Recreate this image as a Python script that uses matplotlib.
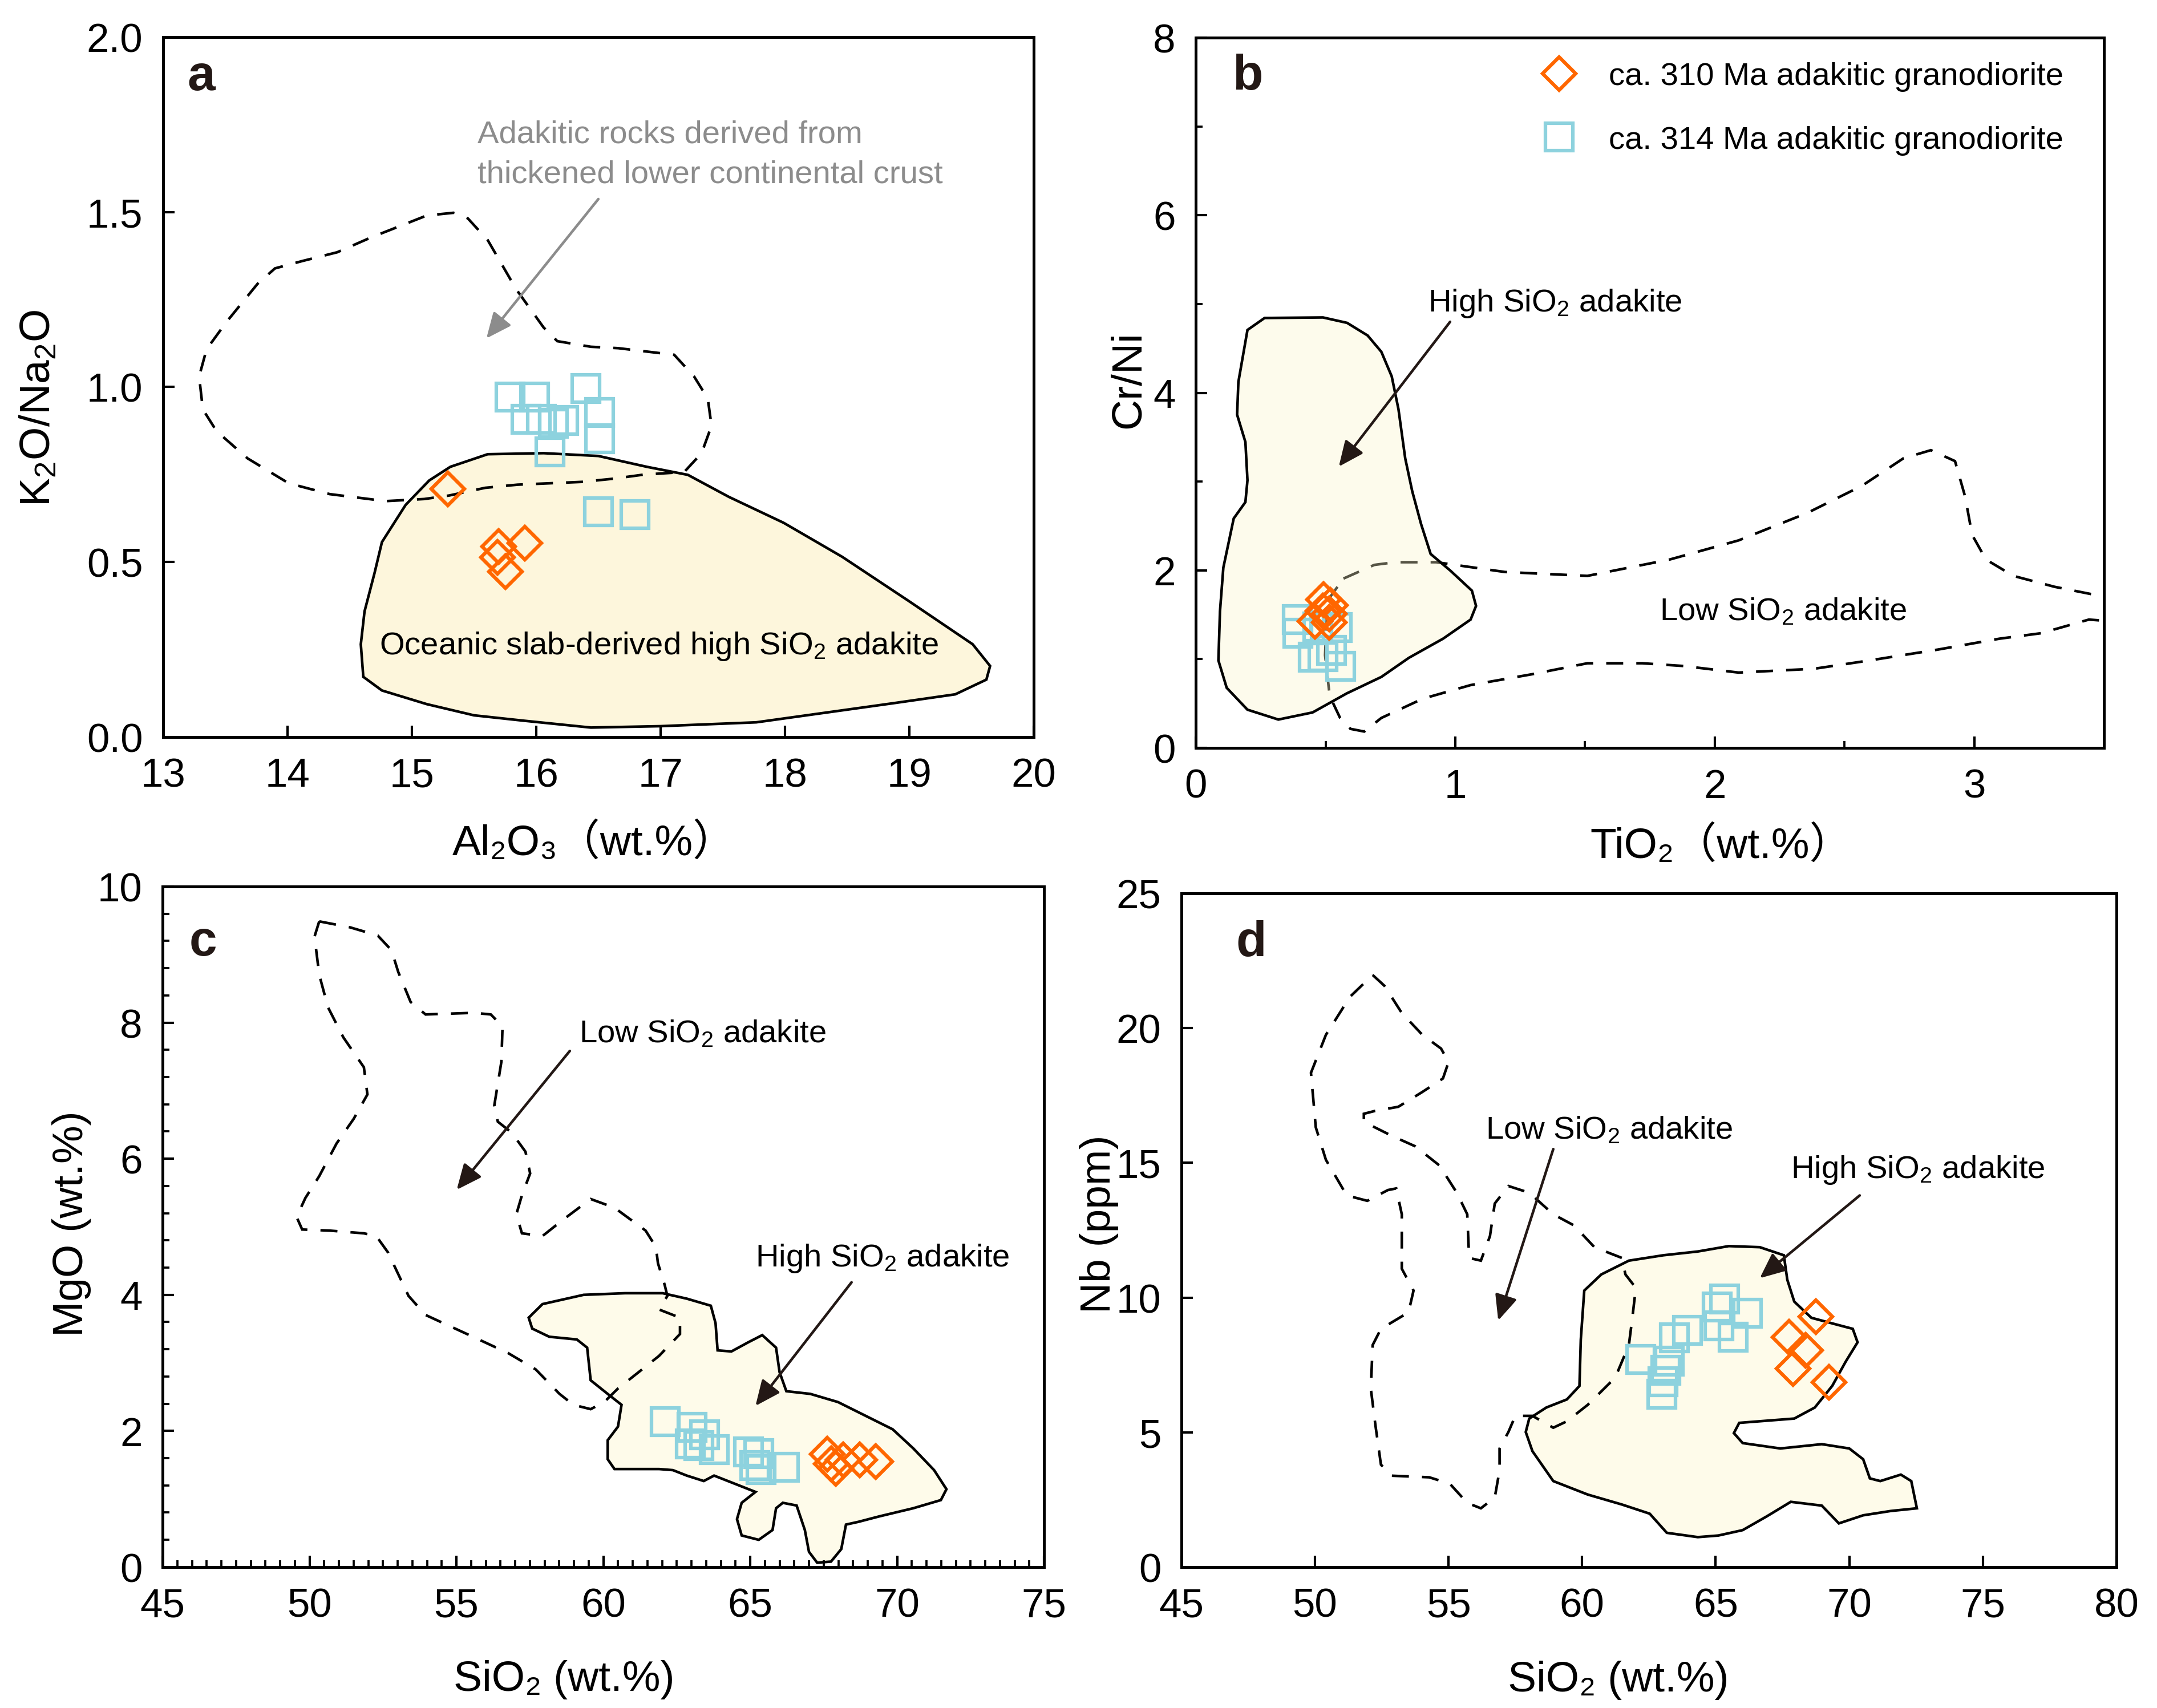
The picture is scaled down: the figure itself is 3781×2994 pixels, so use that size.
import matplotlib
matplotlib.use("Agg")
import matplotlib.pyplot as plt
from matplotlib.ticker import MultipleLocator


OUTPUT_PATH = "out.png"

# ---------------- panel a : K2O/Na2O vs Al2O3 ----------------
A_SLAB_X = [15.31, 15.61, 16.06, 16.50, 16.89, 17.22, 17.55, 17.99, 18.46, 18.99,
            19.51, 19.65, 19.62, 19.37, 18.88, 17.77, 17.00, 16.44, 15.89, 15.50,
            15.12, 14.76, 14.61, 14.59, 14.62, 14.70, 14.76, 14.95, 15.14]
A_SLAB_Y = [0.772, 0.808, 0.811, 0.803, 0.772, 0.749, 0.686, 0.612, 0.515, 0.390,
            0.265, 0.203, 0.164, 0.122, 0.097, 0.042, 0.031, 0.027, 0.047, 0.062,
            0.094, 0.133, 0.172, 0.265, 0.359, 0.468, 0.557, 0.663, 0.733]
A_CRUST_X = [15.34, 15.12, 14.67, 14.40, 14.12, 13.90, 13.76, 13.51, 13.35, 13.29,
             13.32, 13.43, 13.68, 14.01, 14.34, 14.79, 15.10, 15.30, 15.59, 15.85,
             16.11, 16.37, 16.62, 16.87, 17.19, 17.33, 17.41, 17.38, 17.27, 17.11,
             16.66, 16.44, 16.17, 16.06, 15.84, 15.61, 15.45]
A_CRUST_Y = [1.498, 1.490, 1.427, 1.385, 1.360, 1.339, 1.295, 1.186, 1.108, 1.030,
             0.936, 0.874, 0.796, 0.725, 0.694, 0.674, 0.680, 0.690, 0.712, 0.721,
             0.725, 0.729, 0.738, 0.750, 0.757, 0.811, 0.889, 0.967, 1.030, 1.092,
             1.111, 1.115, 1.131, 1.170, 1.279, 1.420, 1.482]
A_314_X = [15.79, 15.985, 16.40, 15.92, 16.04, 16.14, 16.22, 16.51, 16.51, 16.11, 16.50, 16.795]
A_314_Y = [0.971, 0.972, 0.996, 0.908, 0.907, 0.896, 0.905, 0.927, 0.852, 0.815, 0.643, 0.635]
A_310_X = [15.29, 15.70, 15.91, 15.69, 15.755]
A_310_Y = [0.709, 0.545, 0.554, 0.513, 0.472]

# ---------------- panel b : Cr/Ni vs TiO2 ----------------
B_HIGH_X = [0.265, 0.490, 0.583, 0.662, 0.715, 0.755, 0.781, 0.807, 0.834, 0.868,
            0.905, 0.980, 1.064, 1.080, 1.059, 0.953, 0.821, 0.715, 0.582, 0.450,
            0.318, 0.199, 0.119, 0.087, 0.093, 0.106, 0.146, 0.191, 0.199, 0.191,
            0.159, 0.164, 0.199]
B_HIGH_Y = [4.843, 4.849, 4.788, 4.646, 4.462, 4.185, 3.815, 3.262, 2.892, 2.523,
            2.185, 2.000, 1.772, 1.600, 1.446, 1.231, 1.015, 0.800, 0.615, 0.400,
            0.320, 0.431, 0.677, 0.985, 1.538, 2.031, 2.585, 2.769, 3.015, 3.446,
            3.754, 4.123, 4.708]
B_LOW_X = [0.569, 0.688, 0.768, 0.927, 1.191, 1.509, 1.827, 2.092, 2.356, 2.568,
           2.727, 2.833, 2.926, 2.965, 2.992, 3.045, 3.151, 3.310, 3.468, 3.56,
           3.56, 3.442, 3.257, 3.098, 2.860, 2.595, 2.383, 2.092, 1.880, 1.721,
           1.509, 1.297, 1.059, 0.874, 0.715, 0.649, 0.596, 0.556, 0.516, 0.498,
           0.508]
B_LOW_Y = [1.908, 2.062, 2.092, 2.092, 1.982, 1.938, 2.123, 2.338, 2.646, 2.954,
           3.262, 3.354, 3.231, 2.831, 2.400, 2.123, 1.938, 1.815, 1.723, 1.69,
           1.42, 1.446, 1.292, 1.231, 1.108, 0.985, 0.892, 0.849, 0.923, 0.954,
           0.954, 0.831, 0.708, 0.554, 0.338, 0.185, 0.215, 0.338, 0.585, 1.046,
           1.662]
B_314_X = [0.391, 0.393, 0.544, 0.470, 0.452, 0.490, 0.522, 0.558]
B_314_Y = [1.444, 1.294, 1.358, 1.360, 1.020, 1.030, 1.100, 0.919]
B_310_X = [0.492, 0.518, 0.514, 0.459, 0.514, 0.489]
B_310_Y = [1.673, 1.609, 1.512, 1.427, 1.416, 1.544]

# ---------------- panel c : MgO vs SiO2 ----------------
C_LOW_X = [50.33, 51.38, 52.32, 52.79, 53.02, 53.44, 53.95, 55.59, 56.17, 56.57,
           56.53, 56.41, 56.29, 56.41, 56.88, 57.35, 57.51, 57.23, 57.04, 57.23,
           57.93, 58.63, 59.57, 60.38, 61.44, 61.79, 61.86, 62.09, 62.18, 61.90,
           62.61, 62.61, 61.90, 61.32, 60.50, 60.03, 59.57, 58.98, 58.51, 57.70,
           56.76, 55.36, 53.95, 53.37, 53.02, 52.67, 52.27, 51.85, 50.68, 49.75,
           49.56, 49.86, 50.33, 50.92, 51.50, 51.97, 51.85, 51.15, 50.63, 50.33,
           50.17]
C_LOW_Y = [9.488, 9.400, 9.280, 9.064, 8.744, 8.304, 8.120, 8.144, 8.120, 7.944,
           7.424, 7.104, 6.784, 6.544, 6.384, 6.104, 5.784, 5.464, 5.184, 4.904,
           4.864, 5.104, 5.408, 5.280, 4.944, 4.704, 4.464, 4.144, 3.984, 3.784,
           3.664, 3.424, 3.104, 2.904, 2.624, 2.424, 2.320, 2.384, 2.544, 2.904,
           3.144, 3.424, 3.704, 3.984, 4.304, 4.624, 4.864, 4.904, 4.944, 4.960,
           5.144, 5.424, 5.744, 6.224, 6.584, 6.944, 7.344, 7.784, 8.224, 8.704,
           9.264]
C_HIGH_X = [57.93, 59.33, 60.74, 62.02, 62.84, 63.66, 63.82, 63.89, 64.36, 64.94,
            65.41, 65.88, 66.00, 66.23, 67.05, 67.99, 68.92, 69.85, 70.55, 71.26,
            71.68, 71.49, 70.55, 69.39, 68.68, 68.26, 68.10, 67.75, 67.28, 67.00,
            66.86, 66.58, 66.11, 65.88, 65.76, 65.29, 64.71, 64.55, 64.71, 65.18,
            64.24, 63.77, 63.42, 62.84, 62.37, 61.90, 60.38, 60.15, 60.15, 60.50,
            60.62, 60.15, 59.57, 59.45, 59.10, 58.16, 57.58, 57.46]
C_HIGH_Y = [3.864, 4.000, 4.024, 4.024, 3.944, 3.840, 3.584, 3.184, 3.168, 3.304,
            3.408, 3.224, 2.864, 2.584, 2.544, 2.424, 2.224, 2.024, 1.744, 1.424,
            1.144, 0.984, 0.864, 0.744, 0.664, 0.624, 0.264, 0.080, 0.064, 0.224,
            0.544, 0.904, 0.944, 0.864, 0.544, 0.400, 0.464, 0.704, 0.944, 1.104,
            1.264, 1.344, 1.264, 1.344, 1.424, 1.440, 1.440, 1.584, 1.864, 2.064,
            2.384, 2.544, 2.744, 3.224, 3.344, 3.384, 3.504, 3.664]
C_314_X = [62.10, 63.01, 63.45, 62.96, 63.25, 63.77, 64.94, 65.29, 65.16, 65.36, 66.17]
C_314_Y = [2.14, 2.05, 1.94, 1.81, 1.785, 1.73, 1.69, 1.67, 1.49, 1.436, 1.464]
C_310_X = [67.62, 67.91, 68.17, 68.72, 69.27, 67.75]
C_310_Y = [1.66, 1.45, 1.576, 1.576, 1.553, 1.52]

# ---------------- panel d : Nb vs SiO2 ----------------
D_LOW_X = [52.16, 52.60, 53.25, 54.02, 54.72, 55.00, 54.79, 54.02, 53.12, 52.22,
           51.83, 51.83, 52.86, 53.76, 54.66, 55.31, 55.70, 55.77, 56.21, 56.55,
           56.73, 57.24, 58.02, 58.92, 59.69, 60.46, 61.49, 61.62, 62.01, 61.88,
           61.75, 61.24, 60.21, 59.43, 58.92, 58.14, 57.50, 57.24, 56.91, 56.91,
           56.73, 56.21, 55.70, 55.05, 54.28, 52.86, 52.47, 52.27, 52.09, 52.16,
           52.47, 53.50, 53.69, 53.25, 53.25, 53.04, 52.73, 51.96, 51.19, 50.41,
           50.03, 49.85, 50.41, 51.31]
D_LOW_Y = [21.97, 21.57, 20.56, 19.75, 19.24, 18.74, 18.13, 17.63, 17.08, 16.92,
           16.82, 16.52, 16.01, 15.61, 14.90, 13.89, 13.09, 11.47, 11.37, 12.28,
           13.49, 14.14, 13.89, 13.09, 12.68, 11.87, 11.47, 10.86, 10.36, 9.25,
           8.24, 7.03, 6.02, 5.41, 5.17, 5.61, 5.61, 5.01, 4.40, 3.59,
           2.58, 2.18, 2.38, 3.09, 3.33, 3.39, 3.80, 5.21, 6.62, 8.24,
           8.84, 9.45, 10.26, 11.07, 13.09, 14.05, 13.99, 13.59, 13.79, 15.11,
           16.32, 18.34, 19.75, 21.16]
D_HIGH_X = [61.75, 63.04, 64.33, 65.49, 66.65, 67.55, 67.68, 67.94, 68.58, 69.48,
            70.13, 70.31, 69.87, 69.36, 68.71, 67.94, 66.65, 65.88, 65.68, 66.01,
            67.42, 68.97, 70.00, 70.52, 70.77, 71.16, 71.93, 72.32, 72.53, 71.55,
            70.52, 69.61, 68.97, 67.81, 66.91, 66.01, 65.10, 64.33, 63.17, 62.53,
            61.49, 60.21, 58.92, 58.14, 57.89, 58.02, 58.66, 59.43, 59.90, 59.95,
            60.08, 60.72]
D_HIGH_Y = [11.37, 11.57, 11.71, 11.91, 11.87, 11.57, 10.66, 9.85, 9.25, 9.01,
            8.84, 8.34, 7.63, 6.72, 5.92, 5.51, 5.41, 5.35, 4.97, 4.60,
            4.40, 4.56, 4.40, 4.00, 3.29, 3.19, 3.43, 3.19, 2.18, 2.08,
            1.92, 1.62, 2.28, 2.42, 1.88, 1.37, 1.17, 1.11, 1.27, 1.98,
            2.32, 2.69, 3.19, 4.30, 5.01, 5.51, 5.92, 6.22, 6.72, 8.44,
            10.26, 10.86]
D_314_X = [62.20, 63.27, 63.13, 63.02, 62.99, 63.45, 63.95, 65.05, 65.34, 65.12, 65.66, 66.19]
D_314_Y = [7.71, 7.65, 7.30, 6.87, 6.41, 8.50, 8.78, 9.66, 9.94, 8.95, 8.53, 9.41]
D_310_X = [68.75, 67.74, 68.36, 67.90, 69.25]
D_310_Y = [9.29, 8.53, 8.04, 7.37, 6.86]

LABEL_310 = "ca. 310 Ma adakitic granodiorite"
LABEL_314 = "ca. 314 Ma adakitic granodiorite"

INK = "#231815"
ORANGE = "#ff6600"
CYAN = "#8dd2de"
GRAY = "#8c8c8c"
DASH = (0, (6.5, 5))
ANNOT_SIZE = 13.5

plt.rcParams["font.family"] = ["Liberation Sans", "DejaVu Sans", "Noto Sans CJK SC"]
plt.rcParams["mathtext.fontset"] = "custom"
plt.rcParams["mathtext.rm"] = "Liberation Sans"
plt.rcParams["mathtext.it"] = "Liberation Sans:italic"
plt.rcParams["mathtext.default"] = "regular"


def style_axes(ax, xlim, ylim, xmajor, ymajor, xminor=None, yminor=None):
    ax.set_xlim(*xlim)
    ax.set_ylim(*ylim)
    ax.xaxis.set_major_locator(MultipleLocator(xmajor))
    ax.yaxis.set_major_locator(MultipleLocator(ymajor))
    if xminor:
        ax.xaxis.set_minor_locator(MultipleLocator(xminor))
    if yminor:
        ax.yaxis.set_minor_locator(MultipleLocator(yminor))
    for spine in ax.spines.values():
        spine.set_linewidth(1.2)
        spine.set_zorder(6)
    ax.tick_params(which="major", direction="in", length=4.8, width=1.0,
                   pad=8.5, labelsize=17, top=False, right=False)
    ax.tick_params(which="minor", direction="in", length=2.8, width=0.9,
                   top=False, right=False)


def place_labels(ax, xlabel, ylabel, xpos, ypos):
    ax.set_xlabel(xlabel, fontsize=18)
    ax.set_ylabel(ylabel, fontsize=18)
    ax.xaxis.label.set_va("center")
    ax.yaxis.label.set_va("center")
    ax.xaxis.set_label_coords(*xpos)
    ax.yaxis.set_label_coords(*ypos)


def panel_letter(ax, letter, pos):
    ax.text(pos[0], pos[1], letter, transform=ax.transAxes, fontsize=21,
            fontweight="bold", color=INK, ha="center", va="center")


def arrow(ax, tail, tip, color=INK):
    ax.annotate("", xy=tip, xytext=tail,
                arrowprops=dict(arrowstyle="-|>,head_length=0.45,head_width=0.2",
                                color=color, lw=1.1, shrinkA=0, shrinkB=0,
                                mutation_scale=20),
                zorder=5)


def draw_points(ax, x310, y310, x314, y314):
    ax.plot(x314, y314, ls="none", marker="s", ms=11.3, mfc="none", mec=CYAN,
            mew=1.5, zorder=4, label=LABEL_314)
    ax.plot(x310, y310, ls="none", marker="D", ms=9.7, mfc="none", mec=ORANGE,
            mew=1.5, zorder=4, label=LABEL_310)


def main() -> None:
    fig = plt.figure(figsize=(3781 / 300, 2995 / 300), dpi=300)

    ax_a = fig.add_axes([0.0756, 0.5683, 0.4036, 0.4097])
    ax_b = fig.add_axes([0.5544, 0.5619, 0.4210, 0.4157])
    ax_c = fig.add_axes([0.0754, 0.0825, 0.4086, 0.3983])
    ax_d = fig.add_axes([0.5477, 0.0825, 0.4335, 0.3943])

    # ---- a ----
    ax = ax_a
    ax.fill(A_SLAB_X, A_SLAB_Y, facecolor="#fdf6dc", edgecolor="black", lw=1.1, zorder=1)
    ax.fill(A_CRUST_X, A_CRUST_Y, facecolor="none", edgecolor="black", lw=1.1,
            ls=DASH, zorder=2)
    draw_points(ax, A_310_X, A_310_Y, A_314_X, A_314_Y)
    ax.text(15.53, 1.665, "Adakitic rocks derived from\nthickened lower continental crust",
            color=GRAY, fontsize=ANNOT_SIZE, ha="left", va="center", linespacing=1.45)
    arrow(ax, (16.50, 1.537), (15.60, 1.139), color=GRAY)
    ax.text(14.74, 0.261, r"Oceanic slab-derived high SiO$_2$ adakite",
            fontsize=ANNOT_SIZE, ha="left", va="center", color="black")
    style_axes(ax, (13, 20), (0, 2.0), 1, 0.5)
    place_labels(ax, "Al₂O₃（wt.%）", r"K$_2$O/Na$_2$O", (0.495, -0.151), (-0.143, 0.471))
    panel_letter(ax, "a", (0.044, 0.943))

    # ---- b ----
    ax = ax_b
    ax.fill(B_LOW_X, B_LOW_Y, facecolor="none", edgecolor="black", lw=1.1,
            ls=DASH, zorder=1)
    ax.fill(B_HIGH_X, B_HIGH_Y, facecolor="#fcf6c9", alpha=0.35, edgecolor="none", zorder=2)
    ax.fill(B_HIGH_X, B_HIGH_Y, facecolor="none", edgecolor="black", lw=1.1, zorder=3)
    draw_points(ax, B_310_X, B_310_Y, B_314_X, B_314_Y)
    ax.text(0.895, 5.015, r"High SiO$_2$ adakite", fontsize=ANNOT_SIZE,
            ha="left", va="center")
    arrow(ax, (0.980, 4.800), (0.551, 3.169))
    ax.text(1.787, 1.538, r"Low SiO$_2$ adakite", fontsize=ANNOT_SIZE,
            ha="left", va="center")
    style_axes(ax, (0, 3.5), (0, 8), 1, 2, 0.5, 1)
    place_labels(ax, "TiO₂（wt.%）", "Cr/Ni", (0.5785, -0.137), (-0.074, 0.519))
    panel_letter(ax, "b", (0.057, 0.946))
    handles, labels = ax.get_legend_handles_labels()
    ax.legend(handles[::-1], labels[::-1], loc="upper left",
              bbox_to_anchor=(0.3825, 0.966), frameon=False, fontsize=ANNOT_SIZE,
              borderpad=0, borderaxespad=0, handlelength=1.0, handletextpad=1.05,
              labelspacing=1.06, numpoints=1)

    # ---- c ----
    ax = ax_c
    ax.fill(C_HIGH_X, C_HIGH_Y, facecolor="#fefbea", edgecolor="black", lw=1.1, zorder=1)
    ax.fill(C_LOW_X, C_LOW_Y, facecolor="none", edgecolor="black", lw=1.1,
            ls=DASH, zorder=2)
    draw_points(ax, C_310_X, C_310_Y, C_314_X, C_314_Y)
    ax.text(59.17, 7.84, r"Low SiO$_2$ adakite", fontsize=ANNOT_SIZE, ha="left", va="center")
    arrow(ax, (58.86, 7.584), (55.01, 5.544))
    ax.text(65.18, 4.544, r"High SiO$_2$ adakite", fontsize=ANNOT_SIZE, ha="left", va="center")
    arrow(ax, (68.45, 4.184), (65.18, 2.368))
    style_axes(ax, (45, 75), (0, 10), 5, 2, 0.5, 0.4)
    place_labels(ax, "SiO₂ (wt.%)", "MgO (wt.%)", (0.4557, -0.165), (-0.103, 0.505))
    panel_letter(ax, "c", (0.046, 0.918))

    # ---- d ----
    ax = ax_d
    ax.fill(D_HIGH_X, D_HIGH_Y, facecolor="#fefbea", edgecolor="black", lw=1.1, zorder=1)
    ax.fill(D_LOW_X, D_LOW_Y, facecolor="none", edgecolor="black", lw=1.1,
            ls=DASH, zorder=2)
    draw_points(ax, D_310_X, D_310_Y, D_314_X, D_314_Y)
    ax.text(56.39, 16.22, r"Low SiO$_2$ adakite", fontsize=ANNOT_SIZE, ha="left", va="center")
    arrow(ax, (58.92, 15.51), (56.86, 9.15))
    ax.text(67.81, 14.76, r"High SiO$_2$ adakite", fontsize=ANNOT_SIZE, ha="left", va="center")
    arrow(ax, (70.39, 13.79), (66.65, 10.72))
    style_axes(ax, (45, 80), (0, 25), 5, 5)
    place_labels(ax, "SiO₂ (wt.%)", "Nb (ppm)", (0.467, -0.167), (-0.088, 0.51))
    panel_letter(ax, "d", (0.0745, 0.927))

    fig.savefig(OUTPUT_PATH, dpi=300)


if __name__ == "__main__":
    main()
